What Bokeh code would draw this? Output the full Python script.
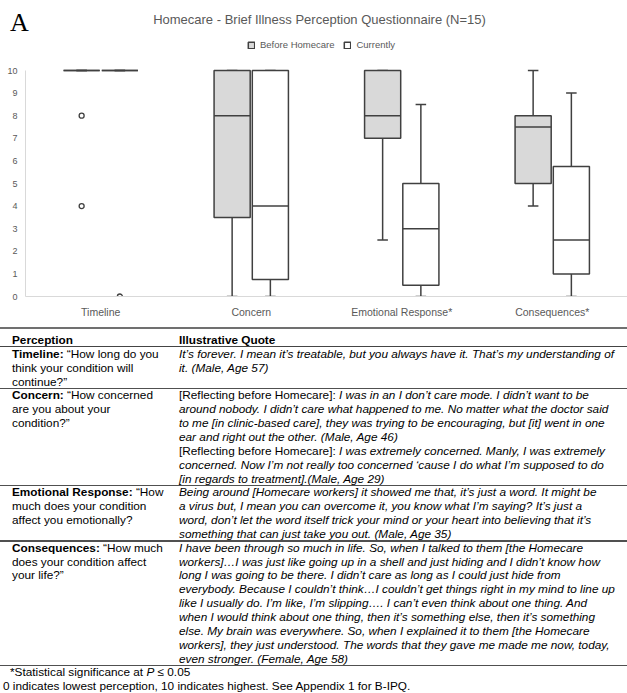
from bokeh.plotting import figure
from bokeh.models import (FactorRange, Range1d, FixedTicker, ColumnDataSource,
                          Legend, LegendItem, Div)
from bokeh.transform import dodge
from bokeh.layouts import column
from bokeh.embed import file_html
from bokeh.resources import INLINE

# ---------------- data ----------------
chart_title = "Homecare - Brief Illness Perception Questionnaire (N=15)"
panel_letter = "A"
categories = ["Timeline", "Concern", "Emotional Response*", "Consequences*"]
series_names = ["Before Homecare", "Currently"]
y_ticks = [0, 1, 2, 3, 4, 5, 6, 7, 8, 9, 10]

before_lower = [10, 0, 2.5, 4]
before_q1 = [10, 3.5, 7, 5]
before_median = [10, 8, 8, 7.5]
before_q3 = [10, 10, 10, 8]
before_upper = [10, 10, 10, 10]

current_lower = [10, 0, 0, 0]
current_q1 = [10, 0.75, 0.5, 1]
current_median = [10, 4, 3, 2.5]
current_q3 = [10, 10, 5, 5.75]
current_upper = [10, 10, 8.5, 9]

before_outlier_cat = ["Timeline", "Timeline"]
before_outlier_val = [8, 4]
current_outlier_cat = ["Timeline"]
current_outlier_val = [0]

header_labels = ["Perception", "Illustrative Quote"]
perception_lines = [
    ["<b>Timeline:</b> \u201cHow long do you", "think your condition will", "continue?\u201d"],
    ["<b>Concern:</b> \u201cHow concerned", "are you about your", "condition?\u201d"],
    ["<b>Emotional Response:</b> \u201cHow", "much does your condition", "affect you emotionally?"],
    ["<b>Consequences:</b> \u201cHow much", "does your condition affect", "your life?\u201d"],
]
quote_lines = [
    ["<i>It\u2019s forever. I mean it\u2019s treatable, but you always have it. That\u2019s my understanding of</i>",
     "<i>it. (Male, Age 57)</i>"],
    ["[Reflecting before Homecare]: <i>I was in an I don\u2019t care mode. I didn\u2019t want to be</i>",
     "<i>around nobody. I didn\u2019t care what happened to me. No matter what the doctor said</i>",
     "<i>to me [in clinic-based care], they was trying to be encouraging, but [it] went in one</i>",
     "<i>ear and right out the other. (Male, Age 46)</i>",
     "[Reflecting before Homecare]: <i>I was extremely concerned. Manly, I was extremely</i>",
     "<i>concerned. Now I\u2019m not really too concerned \u2018cause I do what I\u2019m supposed to do</i>",
     "<i>[in regards to treatment].(Male, Age 29)</i>"],
    ["<i>Being around [Homecare workers] it showed me that, it\u2019s just a word. It might be</i>",
     "<i>a virus but, I mean you can overcome it, you know what I\u2019m saying? It\u2019s just a</i>",
     "<i>word, don\u2019t let the word itself trick your mind or your heart into believing that it\u2019s</i>",
     "<i>something that can just take you out. (Male, Age 35)</i>"],
    ["<i>I have been through so much in life. So, when I talked to them [the Homecare</i>",
     "<i>workers]\u2026I was just like going up in a shell and just hiding and I didn\u2019t know how</i>",
     "<i>long I was going to be there. I didn\u2019t care as long as I could just hide from</i>",
     "<i>everybody. Because I couldn\u2019t think\u2026I couldn\u2019t get things right in my mind to line up</i>",
     "<i>like I usually do. I\u2019m like, I\u2019m slipping\u2026. I can\u2019t even think about one thing. And</i>",
     "<i>when I would think about one thing, then it\u2019s something else, then it\u2019s something</i>",
     "<i>else. My brain was everywhere. So, when I explained it to them [the Homecare</i>",
     "<i>workers], they just understood. The words that they gave me made me now, today,</i>",
     "<i>even stronger. (Female, Age 58)</i>"],
]
footnotes = ["*Statistical significance at <i>P</i> \u2264 0.05",
             "0 indicates lowest perception, 10 indicates highest. See Appendix 1 for B-IPQ."]

# ---------------- layout constants ----------------
PAGE_W = 627
TOP_H = 38
FIG_H = 288
FONT = "Liberation Sans"
GREY_TXT = "#595959"
BOX_LINE = "#404040"

# ---------------- header (panel letter + title) ----------------
top_html = (
    f'<div style="position:relative;width:{PAGE_W}px;height:{TOP_H}px;">'
    f'<div style="position:absolute;left:10px;top:10px;font-family:\'Liberation Serif\',serif;'
    f'font-size:26px;line-height:26px;color:#000;white-space:nowrap;">{panel_letter}</div>'
    f'<div style="position:absolute;left:12px;top:11.5px;width:615px;text-align:center;'
    f'font-family:\'Liberation Sans\',Arial,sans-serif;font-size:13px;line-height:15px;'
    f'color:{GREY_TXT};white-space:nowrap;">{chart_title}</div>'
    f'</div>')
top = Div(text=top_html, width=PAGE_W, height=TOP_H, margin=0)

# ---------------- chart ----------------
p = figure(x_range=FactorRange(factors=categories, range_padding=0),
           y_range=Range1d(0, 11.416),
           width=PAGE_W, height=FIG_H, title=None,
           output_backend="svg", toolbar_location=None,
           min_border_left=25, min_border_right=0,
           min_border_top=0, min_border_bottom=30)
p.outline_line_color = None
p.xgrid.grid_line_color = None
p.ygrid.grid_line_color = None

p.yaxis.ticker = FixedTicker(ticks=y_ticks)
p.yaxis.bounds = (0, 10)
p.yaxis.axis_line_color = "#d9d9d9"
p.yaxis.major_tick_line_color = None
p.yaxis.minor_tick_line_color = None
p.yaxis.major_tick_out = 0
p.yaxis.major_tick_in = 0
p.yaxis.major_label_text_font = FONT
p.yaxis.major_label_text_font_size = "9px"
p.yaxis.major_label_text_color = GREY_TXT
p.yaxis.major_label_standoff = 8

p.xaxis.axis_line_color = "#d9d9d9"
p.xaxis.major_tick_line_color = None
p.xaxis.minor_tick_line_color = None
p.xaxis.major_tick_out = 0
p.xaxis.major_tick_in = 0
p.xaxis.major_label_text_font = FONT
p.xaxis.major_label_text_font_size = "10.5px"
p.xaxis.major_label_text_color = GREY_TXT
p.xaxis.major_label_standoff = 9

BOX_W = 0.24
CAP_W = 0.07
OFF = 0.127


def draw_series(lower, q1, med, q3, upper, off, fill):
    src = ColumnDataSource(dict(cat=categories, lower=lower, q1=q1, med=med, q3=q3, upper=upper))
    xc = dodge("cat", off, range=p.x_range)
    xl = dodge("cat", off - BOX_W / 2, range=p.x_range)
    xr = dodge("cat", off + BOX_W / 2, range=p.x_range)
    cl = dodge("cat", off - CAP_W / 2, range=p.x_range)
    cr = dodge("cat", off + CAP_W / 2, range=p.x_range)
    kw = dict(source=src, line_color=BOX_LINE, line_width=1.5)
    p.segment(x0=xc, y0="q3", x1=xc, y1="upper", **kw)
    p.segment(x0=xc, y0="lower", x1=xc, y1="q1", **kw)
    p.segment(x0=cl, y0="upper", x1=cr, y1="upper", **kw)
    p.segment(x0=cl, y0="lower", x1=cr, y1="lower", **kw)
    r = p.vbar(x=xc, width=BOX_W, top="q3", bottom="q1", fill_color=fill, **kw)
    p.segment(x0=xl, y0="med", x1=xr, y1="med", **kw)
    return r


rb = draw_series(before_lower, before_q1, before_median, before_q3, before_upper, -OFF, "#d9d9d9")
rc = draw_series(current_lower, current_q1, current_median, current_q3, current_upper, OFF, "#ffffff")

ob = ColumnDataSource(dict(cat=before_outlier_cat, v=before_outlier_val))
oc = ColumnDataSource(dict(cat=current_outlier_cat, v=current_outlier_val))
p.scatter(x=dodge("cat", -OFF, range=p.x_range), y="v", source=ob, size=5,
          fill_color="white", line_color=BOX_LINE, line_width=1.3)
p.scatter(x=dodge("cat", OFF, range=p.x_range), y="v", source=oc, size=5,
          fill_color="white", line_color=BOX_LINE, line_width=1.3)

legend = Legend(items=[LegendItem(label=series_names[0], renderers=[rb]),
                       LegendItem(label=series_names[1], renderers=[rc])],
                orientation="horizontal", location=(222, 246),
                glyph_width=8, glyph_height=8, label_height=10, label_standoff=5,
                spacing=9, padding=0, margin=0, border_line_color=None,
                background_fill_alpha=0, label_text_font=FONT,
                label_text_font_size="9.5px", label_text_color=GREY_TXT)
p.add_layout(legend)

# ---------------- table ----------------
DIV_TOP = TOP_H + FIG_H    # page y of the table div (326)
PITCH = 13.85
FIRST = 340.0              # page y centre of header line
LEFT_X = 12
QUOTE_X = 179
LH = 12

parts = []


def text_line(i, x, html):
    top_y = FIRST + PITCH * i - DIV_TOP - LH / 2
    parts.append(f'<div style="position:absolute;left:{x}px;top:{top_y:.2f}px;'
                 f'line-height:{LH}px;white-space:nowrap;">{html}</div>')


def rule(y, w, color):
    parts.append(f'<div style="position:absolute;left:0px;top:{y - DIV_TOP - w / 2:.2f}px;'
                 f'width:{PAGE_W}px;height:{w}px;background:{color};"></div>')


text_line(0, LEFT_X, f"<b>{header_labels[0]}</b>")
text_line(0, QUOTE_X, f"<b>{header_labels[1]}</b>")
idx = 1
row_ends = []
for left, right in zip(perception_lines, quote_lines):
    for k, s in enumerate(left):
        text_line(idx + k, LEFT_X, s)
    for k, s in enumerate(right):
        text_line(idx + k, QUOTE_X, s)
    idx += max(len(left), len(right))
    row_ends.append(idx)
text_line(idx, 10, footnotes[0])
text_line(idx + 1, 3, footnotes[1])

rule(328, 2, "#707070")
rule(FIRST + PITCH * 0.5, 1, "#444444")
for e in row_ends:
    rule(FIRST + PITCH * (e - 0.5), 1.5, "#505050")

div_h = 693 - DIV_TOP
html = (f'<div style="position:relative;width:{PAGE_W}px;height:{div_h}px;'
        f'font-family:\'Liberation Sans\',Arial,sans-serif;font-size:11.8px;color:#000;">'
        + "".join(parts) + "</div>")
table = Div(text=html, width=PAGE_W, height=div_h, margin=0)

layout = column(top, p, table, spacing=0)
open("out.html", "w").write(file_html(layout, INLINE))
